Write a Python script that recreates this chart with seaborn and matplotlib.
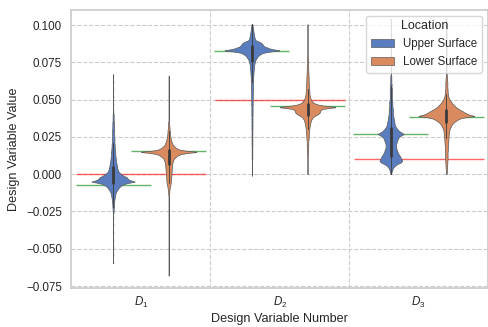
import numpy as np
import pandas as pd
import matplotlib
matplotlib.use("Agg")
import matplotlib.pyplot as plt
import seaborn as sns

# ---------------- data ----------------
categories = ["$D_1$", "$D_2$", "$D_3$"]
locations = ["Upper Surface", "Lower Surface"]

# reference values (red) and per-surface targets (green)
reference_values = [0.0, 0.050, 0.010]
upper_targets = [-0.0075, 0.0826, 0.0270]
lower_targets = [0.0157, 0.0457, 0.0385]

d1_upper = [
    (0.067, 1), (0.062, 1), (0.057, 1), (0.052, 1), (0.047, 1), (0.043, 1),
    (0.041, 1), (0.040, 2), (0.039, 2), (0.038, 2), (0.037, 2), (0.036, 2),
    (0.035, 3), (0.034, 3), (0.033, 3), (0.032, 3), (0.031, 3), (0.030, 4), (0.029, 4),
    (0.028, 4), (0.027, 4), (0.026, 4), (0.025, 4), (0.024, 5), (0.023, 5),
    (0.022, 5), (0.021, 5), (0.020, 6), (0.019, 6), (0.018, 6), (0.017, 7),
    (0.016, 7), (0.015, 8), (0.014, 8), (0.013, 8), (0.012, 9), (0.011, 10),
    (0.010, 10), (0.009, 11), (0.008, 12), (0.007, 13), (0.006, 14), (0.005, 15),
    (0.004, 16), (0.003, 18), (0.002, 20), (0.001, 24), (0.000, 32),
    (-0.001, 40), (-0.002, 52), (-0.003, 56), (-0.004, 64), (-0.005, 88),
    (-0.006, 52), (-0.007, 36), (-0.008, 28), (-0.009, 22), (-0.010, 18),
    (-0.011, 14), (-0.012, 11), (-0.013, 9), (-0.014, 8), (-0.015, 7),
    (-0.016, 6), (-0.017, 5), (-0.018, 4), (-0.019, 4),
    (-0.020, 3), (-0.021, 3), (-0.022, 3), (-0.023, 2), (-0.024, 2), (-0.025, 2), (-0.026, 1),
    (-0.029, 1), (-0.034, 1), (-0.039, 1), (-0.044, 1), (-0.049, 1), (-0.054, 1), (-0.0596, 1),
]

d1_lower = [
    (0.066, 1), (0.061, 1), (0.056, 1), (0.051, 1), (0.046, 1), (0.041, 1), (0.037, 1),
    (0.035, 3), (0.034, 3), (0.033, 4), (0.032, 4), (0.031, 5),
    (0.030, 6), (0.029, 7), (0.028, 7), (0.027, 8), (0.026, 9), (0.025, 10),
    (0.024, 12), (0.023, 14), (0.022, 16), (0.021, 20),
    (0.020, 23), (0.019, 29), (0.018, 39), (0.017, 52), (0.016, 78), (0.015, 182),
    (0.014, 91), (0.013, 59), (0.012, 46), (0.011, 36), (0.010, 29), (0.009, 26),
    (0.008, 23), (0.007, 21),
    (0.006, 20), (0.005, 20), (0.004, 19), (0.003, 18), (0.002, 18), (0.001, 17),
    (0.000, 16), (-0.001, 16), (-0.002, 15), (-0.003, 14), (-0.004, 14), (-0.005, 13),
    (-0.006, 12), (-0.007, 10), (-0.008, 8), (-0.009, 7),
    (-0.010, 5), (-0.011, 4), (-0.012, 4), (-0.013, 3), (-0.014, 2),
    (-0.017, 1), (-0.022, 1), (-0.027, 1), (-0.032, 1), (-0.037, 1), (-0.042, 1),
    (-0.047, 1), (-0.052, 1), (-0.057, 1), (-0.062, 1), (-0.068, 1),
]

d2_upper = [
    (0.1007, 1),
    (0.100, 3), (0.099, 4), (0.098, 5), (0.097, 6), (0.096, 7), (0.095, 8),
    (0.094, 10), (0.093, 11), (0.092, 12), (0.091, 14), (0.090, 16),
    (0.089, 32), (0.088, 48), (0.087, 53), (0.086, 58), (0.085, 74), (0.084, 95),
    (0.083, 148), (0.082, 74), (0.081, 48), (0.080, 37), (0.079, 29), (0.078, 24),
    (0.077, 19), (0.076, 16),
    (0.075, 14), (0.074, 12), (0.073, 11), (0.072, 10), (0.071, 10), (0.070, 9),
    (0.069, 8), (0.068, 8), (0.067, 7), (0.066, 7), (0.065, 6), (0.064, 6),
    (0.063, 6), (0.062, 6), (0.061, 5), (0.060, 5),
    (0.059, 5), (0.058, 5), (0.057, 5), (0.056, 5), (0.055, 4), (0.054, 4),
    (0.053, 4), (0.052, 4), (0.051, 4), (0.050, 3), (0.049, 4), (0.048, 3),
    (0.047, 4), (0.046, 3), (0.045, 3), (0.044, 3), (0.043, 3), (0.042, 3),
    (0.041, 3), (0.040, 3), (0.039, 3), (0.038, 2), (0.037, 3), (0.036, 2),
    (0.035, 3), (0.034, 2), (0.033, 3), (0.032, 2), (0.031, 3), (0.030, 2),
    (0.029, 2), (0.028, 2), (0.027, 2), (0.026, 2), (0.025, 2), (0.024, 2),
    (0.023, 2), (0.022, 2), (0.021, 2), (0.020, 2), (0.019, 2), (0.018, 1),
    (0.017, 2), (0.016, 1), (0.015, 2), (0.014, 1), (0.013, 2), (0.012, 1),
    (0.011, 2), (0.010, 1),
    (0.006, 1), (0.002, 1), (-0.001, 1),
]

d2_lower = [
    (0.1005, 1), (0.097, 1), (0.093, 1), (0.089, 1), (0.085, 1), (0.081, 1),
    (0.078, 2), (0.077, 2), (0.076, 3), (0.075, 3), (0.074, 3), (0.073, 3),
    (0.072, 4), (0.071, 4), (0.070, 4), (0.069, 4), (0.068, 5), (0.067, 5), (0.066, 5),
    (0.065, 6), (0.064, 6), (0.063, 6), (0.062, 6), (0.061, 7), (0.060, 7),
    (0.059, 7), (0.058, 8), (0.057, 9), (0.056, 9), (0.055, 10), (0.054, 10),
    (0.053, 11), (0.052, 13),
    (0.051, 15), (0.050, 18), (0.049, 23), (0.048, 31), (0.047, 46), (0.046, 80),
    (0.045, 160), (0.044, 86), (0.043, 68), (0.042, 66), (0.041, 63), (0.040, 51),
    (0.039, 37), (0.038, 27), (0.037, 22), (0.036, 18),
    (0.035, 16), (0.034, 14), (0.033, 13), (0.032, 11), (0.031, 10), (0.030, 9),
    (0.029, 9), (0.028, 8), (0.027, 7), (0.026, 7), (0.025, 6), (0.024, 6),
    (0.023, 5), (0.022, 4), (0.021, 4), (0.020, 4), (0.019, 4), (0.018, 3),
    (0.017, 3), (0.016, 3), (0.015, 3), (0.014, 2), (0.013, 2),
    (0.010, 1), (0.006, 1), (0.002, 1), (0.000, 1),
]

d3_upper = [
    (0.104, 1), (0.099, 1), (0.094, 1), (0.089, 1), (0.084, 1), (0.079, 1), (0.074, 1), (0.069, 1),
    (0.066, 1), (0.065, 1), (0.064, 1), (0.063, 1), (0.062, 1), (0.061, 1),
    (0.060, 2), (0.059, 1), (0.058, 2), (0.057, 2), (0.056, 2),
    (0.055, 2), (0.054, 2), (0.053, 2), (0.052, 2), (0.051, 2), (0.050, 2),
    (0.049, 3), (0.048, 3), (0.047, 3), (0.046, 3), (0.045, 3), (0.044, 4),
    (0.043, 4), (0.042, 4), (0.041, 4), (0.040, 4), (0.039, 5), (0.038, 5),
    (0.037, 6), (0.036, 6), (0.035, 7), (0.034, 7), (0.033, 8),
    (0.032, 9), (0.031, 11), (0.030, 13), (0.029, 16), (0.028, 20), (0.027, 26),
    (0.026, 20), (0.025, 16), (0.024, 14), (0.023, 13), (0.022, 12), (0.021, 11),
    (0.020, 10), (0.019, 10), (0.018, 10), (0.017, 11), (0.016, 12), (0.015, 13),
    (0.014, 14), (0.013, 16), (0.012, 18), (0.011, 19), (0.010, 21), (0.009, 22),
    (0.008, 20), (0.007, 14), (0.006, 9), (0.005, 6), (0.004, 4), (0.003, 3),
    (0.002, 2), (0.001, 1), (0.000, 1),
]

d3_lower = [
    (0.104, 1), (0.099, 1), (0.094, 1), (0.089, 1), (0.084, 1), (0.079, 1), (0.074, 1), (0.069, 1),
    (0.067, 2), (0.066, 2), (0.065, 3), (0.064, 3), (0.063, 3), (0.062, 4),
    (0.061, 4), (0.060, 4), (0.059, 4),
    (0.058, 4), (0.057, 5), (0.056, 5), (0.055, 5), (0.054, 6), (0.053, 7), (0.052, 8),
    (0.051, 10), (0.050, 13), (0.049, 17), (0.048, 21), (0.047, 26), (0.046, 32),
    (0.045, 38), (0.044, 46), (0.043, 57), (0.042, 67), (0.041, 78), (0.040, 88),
    (0.039, 118), (0.038, 67), (0.037, 50), (0.036, 40), (0.035, 32), (0.034, 25),
    (0.033, 21), (0.032, 18), (0.031, 15), (0.030, 13),
    (0.029, 11), (0.028, 11), (0.027, 10), (0.026, 9), (0.025, 9), (0.024, 8),
    (0.023, 8), (0.022, 8), (0.021, 7), (0.020, 7), (0.019, 6), (0.018, 6),
    (0.017, 6), (0.016, 6), (0.015, 5), (0.014, 5), (0.013, 5), (0.012, 5),
    (0.011, 5), (0.010, 5), (0.009, 4), (0.008, 4),
    (0.007, 4), (0.006, 3), (0.005, 3), (0.004, 3), (0.003, 2), (0.002, 2),
    (0.001, 2), (0.000, 1),
]

samples = [
    (categories[0], locations[0], d1_upper),
    (categories[0], locations[1], d1_lower),
    (categories[1], locations[0], d2_upper),
    (categories[1], locations[1], d2_lower),
    (categories[2], locations[0], d3_upper),
    (categories[2], locations[1], d3_lower),
]
frames = []
for cat, loc, pairs in samples:
    vals = np.array([p[0] for p in pairs], float)
    cnts = np.array([p[1] for p in pairs], int)
    frames.append(pd.DataFrame({
        "Design Variable": cat,
        "Location": loc,
        "Value": np.repeat(vals, cnts),
    }))
df = pd.concat(frames, ignore_index=True)

# ---------------- style ----------------
sns.set_theme(style="whitegrid", palette="muted")
plt.rcParams["font.family"] = ["Liberation Sans", "DejaVu Sans"]
plt.rcParams["mathtext.fontset"] = "custom"
plt.rcParams["mathtext.rm"] = "Liberation Sans"
plt.rcParams["mathtext.it"] = "Liberation Sans:italic"
plt.rcParams["grid.linestyle"] = "--"
plt.rcParams["grid.linewidth"] = 0.8

BANDWIDTH = 0.0005


def bw_rule(kde):
    return BANDWIDTH / float(np.std(kde.dataset, ddof=1))


fig = plt.figure(figsize=(4.88, 3.27), dpi=100)
ax = fig.add_axes([0.1465, 0.1193, 0.8535, 0.8501])

sns.violinplot(data=df, x="Design Variable", y="Value", hue="Location",
               order=categories, hue_order=locations, palette="muted",
               cut=0, density_norm="count", common_norm=True,
               bw_method=bw_rule, gridsize=1500,
               linewidth=0.5, linecolor="#5a5a5a",
               inner_kws=dict(box_width=2.0, whis_width=0.6, marker="", color="#3a3a3a"),
               ax=ax)

# reference / target lines
for i, v in enumerate(reference_values):
    ax.hlines(v, i - 0.468, i + 0.468, color="red", alpha=0.6, lw=1.0, zorder=0.9)
for i, v in enumerate(upper_targets):
    ax.hlines(v, i - 0.2 - 0.27, i - 0.2 + 0.27, color="green", alpha=0.6, lw=1.0, zorder=0.9)
for i, v in enumerate(lower_targets):
    ax.hlines(v, i + 0.2 - 0.27, i + 0.2 + 0.27, color="green", alpha=0.6, lw=1.0, zorder=0.9)

# category separators
for xs in (0.5, 1.5):
    ax.axvline(xs, color="#cccccc", ls="--", lw=0.8, zorder=0.5)

ax.set_xlim(-0.5, 2.5)
ax.set_ylim(-0.0763, 0.1101)
ax.set_yticks([-0.075, -0.050, -0.025, 0.0, 0.025, 0.050, 0.075, 0.100])
ax.xaxis.grid(False)
ax.tick_params(axis="y", labelsize=8.4, length=0, pad=7)
ax.tick_params(axis="x", labelsize=8.4, length=0, pad=5)
ax.set_xlabel("Design Variable Number", fontsize=9.1, labelpad=2)
ax.set_ylabel("Design Variable Value", fontsize=9.1, labelpad=4)

handles, labels = ax.get_legend_handles_labels()
ax.legend(handles, labels, title="Location", loc="upper right",
          fontsize=8.3, title_fontsize=9.0, borderaxespad=0.5)

fig.savefig("out.png", dpi=100)
